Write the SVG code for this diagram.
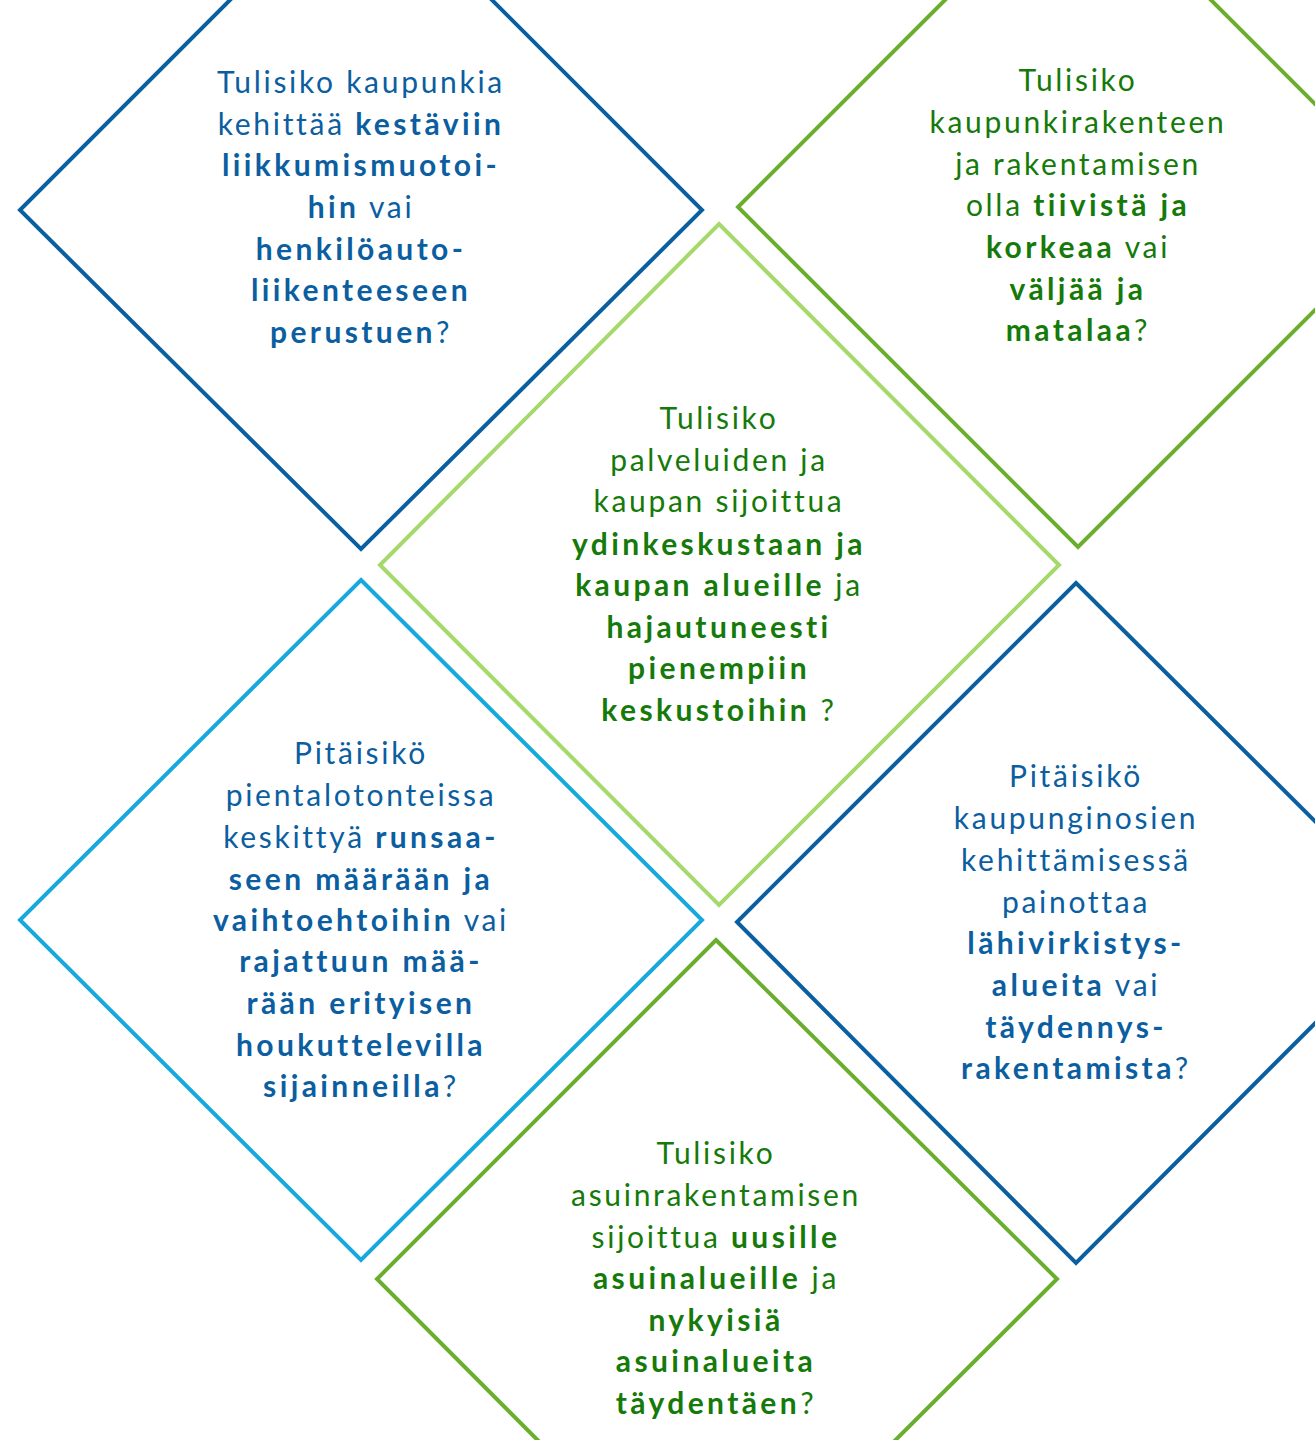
<svg xmlns="http://www.w3.org/2000/svg" width="1315" height="1440" viewBox="0 0 1315 1440">
<style>
.d{fill:none;stroke-width:4;stroke-linejoin:miter}
.t{font-family:Lato,"Noto Sans","Liberation Sans",sans-serif;font-size:30px;text-anchor:middle;letter-spacing:2.7px}
.b{font-weight:700;letter-spacing:3.4px}
.bl{fill:#0b5e9f}
.gr{fill:#157a0a}
</style>
<rect width="1315" height="1440" fill="#ffffff"/>
<g id="connectors"></g>
<g id="n1">
<path class="d" stroke="#0a5fa0" d="M361,-131 L702,210 L361,549 L20,210 Z"/>
<text class="t bl"><tspan x="361" y="93">Tulisiko kaupunkia</tspan><tspan x="361" y="135">kehittää <tspan class="b">kestäviin</tspan></tspan><tspan x="361" y="176" class="b">liikkumismuotoi-</tspan><tspan x="361" y="218"><tspan class="b">hin</tspan> vai</tspan><tspan x="361" y="260" class="b">henkilöauto-</tspan><tspan x="361" y="301" class="b">liikenteeseen</tspan><tspan x="361" y="343"><tspan class="b">perustuen</tspan>?</tspan></text>
</g>
<g id="n2">
<path class="d" stroke="#6aae2e" d="M1078,-133 L1418,207 L1078,547 L738,207 Z"/>
<text class="t gr"><tspan x="1078" y="91">Tulisiko</tspan><tspan x="1078" y="133">kaupunkirakenteen</tspan><tspan x="1078" y="175">ja rakentamisen</tspan><tspan x="1078" y="216">olla <tspan class="b">tiivistä ja</tspan></tspan><tspan x="1078" y="258"><tspan class="b">korkeaa</tspan> vai</tspan><tspan x="1078" y="300" class="b">väljää ja</tspan><tspan x="1078" y="341"><tspan class="b">matalaa</tspan>?</tspan></text>
</g>
<g id="n3">
<path class="d" stroke="#a5d96c" d="M719,224 L1059,565 L719,905 L380,565 Z"/>
<text class="t gr"><tspan x="719" y="429">Tulisiko</tspan><tspan x="719" y="471">palveluiden ja</tspan><tspan x="719" y="512">kaupan sijoittua</tspan><tspan x="719" y="555" class="b">ydinkeskustaan ja</tspan><tspan x="719" y="596"><tspan class="b">kaupan alueille</tspan> ja</tspan><tspan x="719" y="638" class="b">hajautuneesti</tspan><tspan x="719" y="679" class="b">pienempiin</tspan><tspan x="719" y="721"><tspan class="b">keskustoihin</tspan> ?</tspan></text>
</g>
<g id="n4">
<path class="d" stroke="#17a9de" d="M361,580 L702,920 L361,1260 L20,920 Z"/>
<text class="t bl"><tspan x="361" y="764">Pitäisikö</tspan><tspan x="361" y="806">pientalotonteissa</tspan><tspan x="361" y="848">keskittyä <tspan class="b">runsaa-</tspan></tspan><tspan x="361" y="890" class="b">seen määrään ja</tspan><tspan x="361" y="931"><tspan class="b">vaihtoehtoihin</tspan> vai</tspan><tspan x="361" y="972" class="b">rajattuun mää-</tspan><tspan x="361" y="1014" class="b">rään erityisen</tspan><tspan x="361" y="1056" class="b">houkuttelevilla</tspan><tspan x="361" y="1097"><tspan class="b">sijainneilla</tspan>?</tspan></text>
</g>
<g id="n5">
<path class="d" stroke="#0a5fa0" d="M1076,583 L1416,922 L1076,1263 L737,922 Z"/>
<text class="t bl"><tspan x="1076" y="787">Pitäisikö</tspan><tspan x="1076" y="829">kaupunginosien</tspan><tspan x="1076" y="871">kehittämisessä</tspan><tspan x="1076" y="913">painottaa</tspan><tspan x="1076" y="954" class="b">lähivirkistys-</tspan><tspan x="1076" y="996"><tspan class="b">alueita</tspan> vai</tspan><tspan x="1076" y="1038" class="b">täydennys-</tspan><tspan x="1076" y="1079"><tspan class="b">rakentamista</tspan>?</tspan></text>
</g>
<g id="n6">
<path class="d" stroke="#6aae2e" d="M716,940 L1057,1279 L716,1619 L377,1279 Z"/>
<text class="t gr"><tspan x="716" y="1164">Tulisiko</tspan><tspan x="716" y="1206">asuinrakentamisen</tspan><tspan x="716" y="1248">sijoittua <tspan class="b">uusille</tspan></tspan><tspan x="716" y="1289"><tspan class="b">asuinalueille</tspan> ja</tspan><tspan x="716" y="1331" class="b">nykyisiä</tspan><tspan x="716" y="1372" class="b">asuinalueita</tspan><tspan x="716" y="1414"><tspan class="b">täydentäen</tspan>?</tspan></text>
</g>
</svg>
